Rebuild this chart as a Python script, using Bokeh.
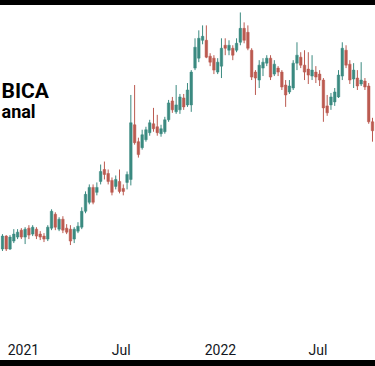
import pandas as pd
from bokeh.plotting import figure
from bokeh.models import Div, Label, Range1d, FixedTicker
from bokeh.layouts import column
from bokeh.embed import file_html
from bokeh.resources import INLINE

# Weekly candles (price units; no price axis visible)
start_week = "2020-11-23"
open_ = [100, 113, 100, 108, 112, 119, 112, 121, 115, 120, 115, 113, 110, 121, 135, 120, 130, 121, 120, 110,
         118, 122, 138, 147, 162, 157, 168, 180, 176, 169, 163, 168, 161, 167, 170, 225, 208, 202, 210, 217,
         226, 223, 216, 218, 230, 249, 238, 240, 252, 245, 245, 282, 292, 310, 310, 294, 292, 278, 284, 305,
         300, 302, 300, 308, 322, 318, 300, 278, 270, 282, 287, 292, 276, 282, 278, 265, 258, 262, 287, 293,
         285, 281, 274, 278, 276, 270, 244, 245, 248, 253, 274, 300, 286, 271, 272, 266, 269, 264, 228]
high = [115, 114, 114, 120, 120, 121, 122, 124, 124, 122, 118, 116, 124, 140, 137, 132, 133, 125, 124, 122,
        127, 142, 158, 165, 165, 167, 185, 188, 180, 172, 174, 180, 165, 178, 255, 265, 212, 220, 223, 230,
        242, 235, 225, 233, 250, 253, 265, 256, 256, 267, 280, 312, 320, 325, 325, 297, 295, 292, 312, 312,
        310, 305, 312, 338, 328, 325, 302, 280, 290, 292, 295, 295, 290, 284, 280, 270, 270, 290, 308, 298,
        300, 298, 295, 284, 280, 272, 255, 257, 262, 280, 308, 305, 290, 287, 280, 288, 272, 267, 232]
low = [98, 98, 99, 106, 110, 110, 105, 110, 113, 110, 109, 107, 108, 119, 119, 118, 116, 115, 104, 106,
       116, 120, 136, 145, 145, 154, 165, 170, 165, 154, 160, 156, 154, 160, 164, 205, 192, 200, 208, 214,
       218, 214, 213, 216, 228, 237, 236, 236, 240, 243, 238, 280, 288, 306, 292, 284, 276, 276, 272, 295,
       295, 290, 298, 305, 307, 300, 270, 255, 262, 274, 284, 270, 274, 274, 260, 243, 256, 260, 280, 282,
       270, 266, 270, 267, 264, 228, 234, 240, 244, 252, 270, 282, 266, 262, 260, 264, 260, 226, 208]
close = [113, 100, 112, 115, 117, 112, 120, 114, 122, 113, 112, 110, 122, 138, 122, 130, 119, 117, 108, 120,
         123, 138, 155, 162, 147, 162, 178, 175, 168, 157, 170, 158, 158, 175, 227, 207, 195, 215, 220, 227,
         221, 217, 221, 230, 247, 240, 245, 253, 243, 260, 278, 303, 312, 314, 293, 288, 280, 288, 302, 302,
         305, 295, 307, 322, 310, 302, 273, 272, 285, 288, 292, 273, 286, 278, 263, 255, 264, 287, 295, 285,
         278, 275, 280, 273, 270, 242, 237, 253, 258, 275, 302, 285, 270, 280, 264, 270, 263, 228, 219]

tick_dates = ["2021-01-01", "2021-07-01", "2022-01-01", "2022-07-01"]
tick_labels = ["2021", "Jul", "2022", "Jul"]
title_lines = ["BICA", "anal"]

UP = "#3b8a80"
DOWN = "#bb5a50"

df = pd.DataFrame({"open": open_, "high": high, "low": low, "close": close})
df["date"] = pd.date_range(start_week, periods=len(df), freq="7D")
df["color"] = [UP if c >= o else DOWN for o, c in zip(df["open"], df["close"])]
df["top"] = df[["open", "close"]].max(axis=1)
df["bottom"] = df[["open", "close"]].min(axis=1)
df.loc[df["top"] - df["bottom"] < 1.5, "top"] = df["bottom"] + 1.5

p = figure(width=375, height=355, x_axis_type="datetime", output_backend="svg",
           toolbar_location=None, y_axis_location=None,
           x_range=Range1d(pd.Timestamp("2020-11-19 08:38"), pd.Timestamp("2022-10-15 14:00")),
           y_range=Range1d(12, 345),
           min_border_left=0, min_border_right=0, min_border_top=0, min_border_bottom=22)
p.outline_line_color = None
p.background_fill_color = "white"
p.border_fill_color = "white"
p.xgrid.visible = False
p.ygrid.visible = False

week_ms = 7 * 24 * 3600 * 1000
p.segment(x0="date", y0="high", x1="date", y1="low", color="color", line_width=1, source=df)
p.vbar(x="date", width=0.68 * week_ms, top="top", bottom="bottom",
       fill_color="color", line_color="color", line_width=0.5, source=df)

tick_ms = [pd.Timestamp(d).value / 1e6 for d in tick_dates]
xa = p.xaxis[0]
xa.ticker = FixedTicker(ticks=tick_ms)
xa.major_label_overrides = {t: lab for t, lab in zip(tick_ms, tick_labels)}
xa.axis_line_color = None
xa.major_tick_line_color = None
xa.minor_tick_line_color = None
xa.major_tick_out = 0
xa.major_tick_in = 0
xa.major_label_standoff = 5
xa.major_label_text_font = "Roboto"
xa.major_label_text_font_size = "14px"
xa.major_label_text_color = "#131722"

p.add_layout(Label(x=1, y=246, x_units="screen", y_units="screen", text=title_lines[0],
                   text_align="left", text_baseline="alphabetic", text_font="Roboto",
                   text_font_style="bold", text_font_size="21px", text_color="#000000"))
p.add_layout(Label(x=1, y=225, x_units="screen", y_units="screen", text=title_lines[1],
                   text_align="left", text_baseline="alphabetic", text_font="Roboto",
                   text_font_style="bold", text_font_size="18px", text_color="#000000"))

top_bar = Div(text="", width=375, height=5, margin=(0, 0, 0, 0),
              styles={"background-color": "#000000"})
bottom_bar = Div(text="", width=375, height=6, margin=(0, 0, 0, 0),
                 styles={"background-color": "#000000"})
layout = column(top_bar, p, bottom_bar, spacing=0, margin=(0, 0, 0, 0))

open("out.html", "w").write(file_html(layout, INLINE))
